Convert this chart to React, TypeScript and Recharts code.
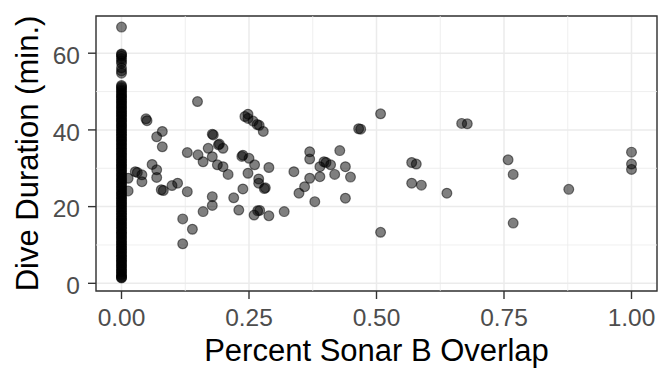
import React from "react";
import {
  ScatterChart,
  Scatter,
  XAxis,
  YAxis,
  CartesianGrid,
  ReferenceLine,
  ReferenceArea,
} from "recharts";

// dives with no sonar B overlap (the dense column at 0)
const zeroOverlapDurations = [
  1.4, 1.5, 1.7, 2.1, 2.4, 2.9, 3.3, 3.6, 4.1, 4.5, 4.8, 5.3, 5.7, 6.0, 6.5, 6.9, 7.2, 7.7, 8.1, 8.4,
  8.9, 9.3, 9.6, 10.1, 10.5, 10.9, 11.3, 11.8, 12.1, 12.6, 13.0, 13.3, 13.8, 14.2, 14.6, 15.0, 15.5,
  15.8, 16.3, 16.7, 17.0, 17.5, 17.9, 18.3, 18.7, 19.2, 19.5, 20.0, 20.4, 20.8, 21.2, 21.6, 22.1, 22.4,
  22.9, 23.3, 23.6, 24.1, 24.5, 24.9, 25.3, 25.8, 26.1, 26.6, 27.0, 27.3, 27.8, 28.2, 28.6, 29.0, 29.5,
  29.8, 30.3, 30.7, 31.0, 31.5, 31.9, 32.3, 32.7, 33.2, 33.5, 34.0, 34.4, 34.8, 35.2, 35.6, 36.1, 36.4,
  36.9, 37.3, 37.6, 38.1, 38.5, 38.9, 39.3, 39.8, 40.1, 40.6, 41.0, 41.3, 41.8, 42.2, 42.6, 43.0, 43.5,
  43.8, 44.3, 44.7, 45.0, 45.5, 45.9, 46.3, 46.7, 47.2, 47.5, 48.0, 48.4, 48.8, 49.2, 49.6, 50.1, 50.5,
  50.9, 51.3, 51.6, 54.8, 55.4, 56.2, 57.4, 58.0, 58.6, 59.2, 59.6, 59.8, 66.8,
];

// dives with some overlap
const overlapPct = [
  0.013, 0.013, 0.027, 0.031, 0.04, 0.04, 0.048, 0.05, 0.06, 0.069, 0.069, 0.069, 0.08, 0.08, 0.078,
  0.082, 0.099, 0.11, 0.12, 0.12, 0.129, 0.129, 0.139, 0.149, 0.15, 0.16, 0.16, 0.17, 0.178, 0.18,
  0.178, 0.178, 0.178, 0.188, 0.19, 0.192, 0.199, 0.199, 0.209, 0.22, 0.23, 0.238, 0.238, 0.236, 0.242,
  0.248, 0.248, 0.25, 0.248, 0.258, 0.26, 0.261, 0.266, 0.27, 0.269, 0.269, 0.267, 0.271, 0.278, 0.282,
  0.28, 0.289, 0.289, 0.319, 0.338, 0.348, 0.359, 0.369, 0.369, 0.369, 0.379, 0.389, 0.389, 0.397,
  0.401, 0.41, 0.418, 0.428, 0.439, 0.439, 0.449, 0.465, 0.469, 0.508, 0.508, 0.569, 0.569, 0.578,
  0.588, 0.638, 0.667, 0.678, 0.758, 0.768, 0.768, 0.877, 1.0, 1.0, 1.0,
];
const diveMin = [
  27.4, 24.1, 29.1, 28.9, 28.3, 26.5, 42.9, 42.4, 31.0, 38.2, 29.6, 27.6, 39.6, 35.6, 24.4,
  24.2, 25.5, 26.1, 16.8, 10.3, 34.1, 23.9, 14.1, 47.4, 33.5, 31.7, 18.7, 35.2, 38.9, 38.7,
  33.0, 22.6, 20.3, 30.9, 36.1, 36.3, 35.2, 30.4, 28.4, 22.3, 19.1, 24.6, 33.4, 33.1, 43.5,
  44.1, 43.0, 32.6, 28.7, 42.3, 17.8, 30.9, 41.4, 41.2, 27.2, 26.1, 18.9, 19.0, 39.6, 24.9,
  24.7, 30.2, 17.6, 18.7, 29.1, 23.5, 25.2, 34.3, 32.4, 27.4, 21.3, 30.4, 27.8, 31.7,
  31.5, 30.9, 28.4, 34.6, 30.4, 22.2, 27.7, 40.3, 40.2, 44.2, 13.3, 31.5, 26.1, 31.1,
  25.6, 23.5, 41.7, 41.6, 32.2, 28.4, 15.7, 24.5, 34.2, 31.1, 29.7,
];

const xTicks = [0, 0.25, 0.5, 0.75, 1];
const yTicks = [0, 20, 40, 60];
const xMinor = [0.125, 0.375, 0.625, 0.875];
const yMinor = [10, 30, 50];

const dives = [
  ...zeroOverlapDurations.map((d) => ({ overlap: 0, duration: d })),
  ...overlapPct.map((p, i) => ({ overlap: p, duration: diveMin[i] })),
];

const font = "'Liberation Sans', Arial, Helvetica, sans-serif";

const Dot = (props: any) => (
  <circle
    cx={props.cx}
    cy={props.cy}
    r={4.9}
    fill="#000"
    fillOpacity={0.5}
    stroke="#000"
    strokeOpacity={0.5}
    strokeWidth={1.2}
  />
);

const YTitle = (props: any) => {
  const vb = props.viewBox;
  const cx = vb.x + 38;
  const cy = vb.y + vb.height / 2;
  return (
    <text
      x={cx}
      y={cy}
      transform={`rotate(-90, ${cx}, ${cy})`}
      textAnchor="middle"
      fontSize={31}
      fontFamily={font}
      fill="#000"
    >
      Dive Duration (min.)
    </text>
  );
};

export default function App() {
  return (
    <div style={{ position: "absolute", left: 0, top: 0, background: "#fff" }}>
      <ScatterChart width={672} height={384} margin={{ top: 16, right: 15, bottom: 0, left: 0 }}>
        <CartesianGrid stroke="#EBEBEB" strokeWidth={1.5} />
        {xMinor.map((v) => (
          <ReferenceLine key={`x${v}`} x={v} stroke="#EBEBEB" strokeWidth={0.8} />
        ))}
        {yMinor.map((v) => (
          <ReferenceLine key={`y${v}`} y={v} stroke="#EBEBEB" strokeWidth={0.8} />
        ))}
        <XAxis
          type="number"
          dataKey="overlap"
          domain={[-0.05, 1.05]}
          ticks={xTicks}
          tickFormatter={(v: number) => v.toFixed(2)}
          axisLine={false}
          tickLine={{ stroke: "#333333", strokeWidth: 1.4 }}
          tickSize={8}
          tickMargin={10}
          height={93}
          tick={{ fill: "#4D4D4D", fontSize: 24.5, fontFamily: font }}
          label={{
            value: "Percent Sonar B Overlap",
            position: "insideBottom",
            offset: 23,
            fontSize: 31,
            fontFamily: font,
            fill: "#000",
          }}
        />
        <YAxis
          type="number"
          dataKey="duration"
          domain={[-2.0, 69.7]}
          ticks={yTicks}
          axisLine={false}
          tickLine={{ stroke: "#333333", strokeWidth: 1.4 }}
          tickSize={8}
          tickMargin={8}
          width={96}
          tick={{ fill: "#4D4D4D", fontSize: 24.5, fontFamily: font, dy: 2 }}
          label={<YTitle />}
        />
        <Scatter data={dives} shape={<Dot />} isAnimationActive={false} />
        <ReferenceArea
          x1={-0.05}
          x2={1.05}
          y1={-2.0}
          y2={69.7}
          fill="none"
          fillOpacity={0}
          stroke="#333333"
          strokeWidth={1.4}
        />
      </ScatterChart>
    </div>
  );
}
